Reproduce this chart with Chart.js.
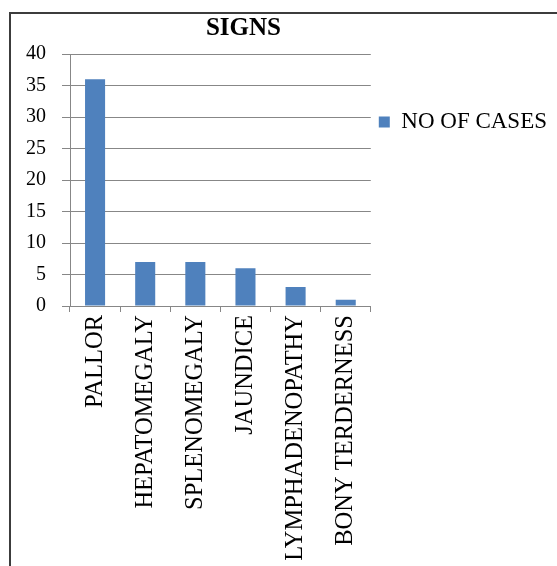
<!DOCTYPE html>
<html>
<head>
<meta charset="utf-8">
<script src="https://cdn.jsdelivr.net/npm/chart.js@4"></script>
<style>
  html, body { margin: 0; padding: 0; background: #fff; overflow: hidden; width: 557px; height: 566px; }
  #frame { position: absolute; left: 9px; top: 12px; width: 640px; height: 640px; border: 2px solid #3c3c3c; }
  #myChartSigns { position: absolute; left: 0; top: 0; }
</style>
</head>
<body>
<div id="frame"></div>
<canvas id="myChartSigns" width="557" height="566"></canvas>
<script>
const signLabels = ["PALLOR", "HEPATOMEGALY", "SPLENOMEGALY", "JAUNDICE", "LYMPHADENOPATHY", "BONY TERDERNESS"];
const noOfCases = [36, 7, 7, 6, 3, 1];
const seriesName = "NO OF CASES";
const chartTitle = "SIGNS";

const serif = "'Liberation Serif', 'Times New Roman', serif";
const gridGrey = "#878787";

// the original centres the title a bit right of the plot, not over the whole width
const titleShift = {
	id: "titleShift",
	afterLayout(chart) {
	  const t = chart.titleBlock;
	  t.left = chart.chartArea.left - 60;
	  t.right = chart.chartArea.right + 106;
	}
};

const ctx = document.getElementById("myChartSigns").getContext("2d");
let myChartSigns = new Chart(ctx, {
	type: "bar",
	data: {
	  labels: signLabels,
	  datasets: [{
		label: seriesName,
		data: noOfCases,
		backgroundColor: "#4f81bd",
		borderWidth: 0,
		barPercentage: 0.4,
		categoryPercentage: 1,
	  }],
	},
	plugins: [titleShift],
	options: {
	  responsive: false,
	  animation: false,
	  layout: {
		padding: { left: 10, right: 0, top: 0, bottom: 0 }
	  },
	  plugins: {
		title: {
		  display: true,
		  text: chartTitle,
		  color: "#000",
		  padding: { top: 14, bottom: 10 },
		  font: { size: 25, weight: "bold", family: serif, lineHeight: 1.2 }
		},
		legend: {
		  position: "right",
		  align: "start",
		  maxWidth: 300,
		  title: {
			display: true,
			text: "",
			padding: { top: 0, bottom: 88 },
			font: { size: 12, lineHeight: 1.2 }
		  },
		  labels: {
			boxWidth: 11,
			boxHeight: 11,
			padding: 8,
			color: "#000",
			font: { size: 23, family: serif }
		  }
		},
		tooltip: { enabled: false }
	  },
	  scales: {
		y: {
		  min: 0,
		  max: 40,
		  ticks: {
			stepSize: 5,
			color: "#000",
			padding: 16,
			font: { size: 20, family: serif }
		  },
		  grid: {
			color: gridGrey,
			tickLength: 8
		  },
		  border: { color: gridGrey }
		},
		x: {
		  afterFit: function (scale) { scale.height = 260; },
		  ticks: {
			autoSkip: false,
			minRotation: 90,
			maxRotation: 90,
			color: "#000",
			padding: 3,
			font: { size: 24.5, family: serif }
		  },
		  grid: {
			color: gridGrey,
			drawOnChartArea: false,
			tickLength: 6
		  },
		  border: { color: gridGrey }
		}
	  }
	}
});
</script>
</body>
</html>
